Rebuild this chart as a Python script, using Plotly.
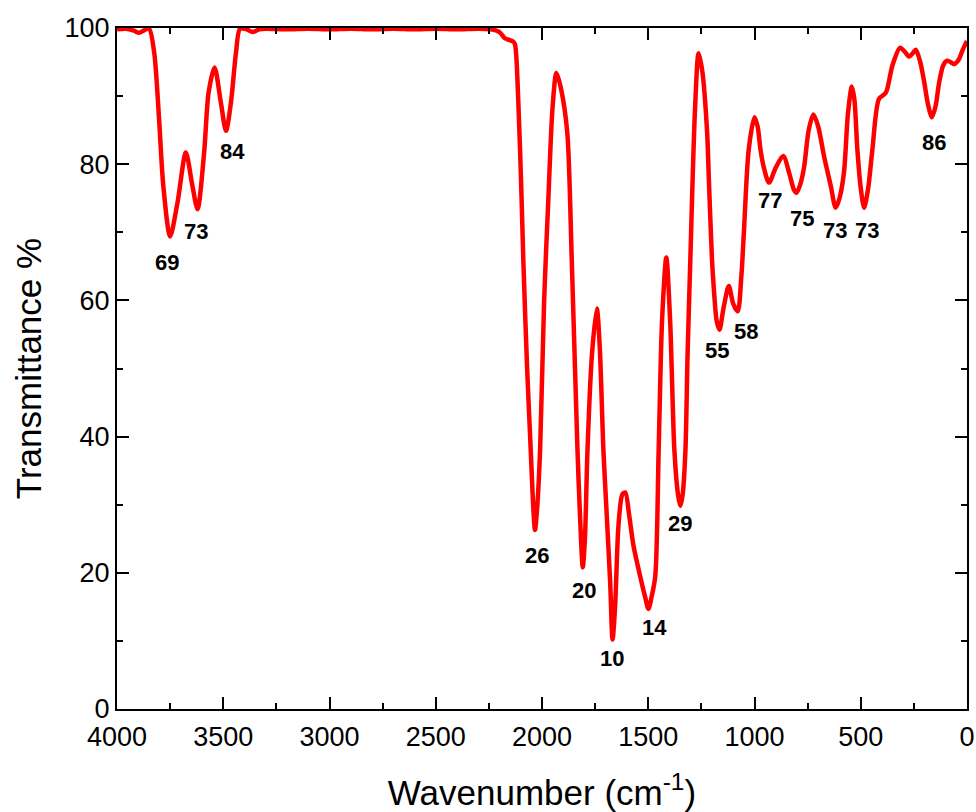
import plotly.graph_objects as go

# Spectrum (wavenumber cm^-1, transmittance %)
wavenumber = [4000, 3960, 3920, 3896, 3870, 3849, 3825, 3802, 3782, 3750, 3715, 3676, 3645, 3621,
              3590, 3569, 3541, 3511, 3487, 3464, 3440, 3421, 3390, 3362, 3330, 3300,
              3200, 3100, 3000, 2900, 2800, 2700, 2600, 2500, 2400, 2300, 2240, 2200,
              2175, 2150, 2135, 2127, 2112, 2096, 2088, 2070, 2053, 2040, 2033, 2024, 2009,
              1990, 1970, 1950, 1932, 1910, 1881, 1860, 1833, 1818, 1808, 1798, 1786, 1765,
              1742, 1728, 1711, 1695, 1679, 1668, 1656, 1640, 1622, 1608, 1590, 1569, 1538,
              1515, 1499, 1484, 1467, 1451, 1435, 1415, 1397, 1377, 1360, 1349, 1338, 1325,
              1315, 1302, 1280, 1263, 1245, 1223, 1215, 1200, 1192, 1178, 1165, 1145, 1121,
              1100, 1079, 1062, 1050, 1027, 1000, 985, 972, 956, 932, 900, 865, 835, 815,
              802, 785, 767, 745, 723, 700, 673, 641, 618, 600, 579, 560, 542, 530, 516,
              500, 484, 465, 445, 414, 382, 351, 315, 295, 272, 255, 241, 220, 201, 185, 165,
              148, 131, 112, 94, 78, 60, 40, 20, 0]
transmittance = [99.8, 99.9, 99.6, 99.3, 99.7, 99.9, 96.4, 86.6, 76.8, 69.4, 74.4, 81.7, 76.8, 73.4,
                 81.7, 90.5, 94.2, 89.0, 84.9, 89.0, 96.4, 99.9, 99.8, 99.4, 99.8, 99.9,
                 99.8, 99.9, 99.8, 99.9, 99.8, 99.9, 99.8, 99.9, 99.8, 99.9, 99.8, 99.4,
                 98.5, 98.2, 98.0, 97.6, 89.6, 74.9, 66.0, 50.0, 38.0, 29.0, 26.3, 29.0, 38.0,
                 60.0, 75.0, 88.5, 93.4, 91.0, 84.6, 66.0, 38.0, 26.0, 20.8, 25.0, 38.0, 52.0,
                 58.8, 53.0, 38.0, 28.3, 18.5, 10.2, 15.0, 27.0, 31.5, 31.8, 28.5, 23.9, 19.5,
                 16.5, 14.7, 16.5, 19.5, 38.0, 57.0, 66.3, 57.0, 38.0, 31.5, 29.8, 31.5, 38.0,
                 52.0, 66.0, 88.0, 96.3, 93.5, 84.7, 78.0, 66.0, 62.0, 57.0, 55.7, 59.0, 62.1,
                 59.5, 58.4, 63.5, 70.0, 82.2, 86.9, 85.5, 82.2, 79.5, 77.3, 79.5, 81.2, 78.5, 76.3,
                 75.8, 77.0, 79.5, 85.0, 87.3, 85.5, 81.2, 76.8, 73.6, 75.0, 78.8, 87.5, 91.4, 89.5, 82.2,
                 76.5, 73.6, 76.5, 82.2, 89.6, 90.5, 94.5, 97.1, 96.6, 95.8, 96.3, 96.8, 95.0, 92.0, 89.0, 86.9,
                 88.5, 92.0, 94.5, 95.2, 95.0, 94.7, 95.3, 96.8, 98.1]

# Peak labels
label_text = ["69", "73", "84", "26", "20", "10", "14", "29", "55", "58", "77", "75", "73", "73", "86"]
label_x = [3764, 3627, 3458, 2024, 1802, 1670, 1472, 1349, 1175, 1038, 929, 778, 623, 472, 156]
label_y = [65.6, 70.1, 81.8, 22.6, 17.4, 7.4, 11.9, 27.2, 52.6, 55.4, 74.6, 72.1, 70.3, 70.3, 83.2]

x_ticks = [4000, 3500, 3000, 2500, 2000, 1500, 1000, 500, 0]
y_ticks = [0, 20, 40, 60, 80, 100]

FONT = "Arial, 'Liberation Sans', sans-serif"

fig = go.Figure()
fig.add_trace(go.Scatter(
    x=wavenumber, y=transmittance, mode="lines",
    line=dict(color="#FF0000", width=4.5, shape="spline", smoothing=0.8),
    showlegend=False, hoverinfo="skip"))

for t, xv, yv in zip(label_text, label_x, label_y):
    fig.add_annotation(x=xv, y=yv, text="<b>" + t + "</b>", showarrow=False,
                       xanchor="center", yanchor="middle",
                       font=dict(family=FONT, size=22, color="black"))

axis_common = dict(
    showline=True, linecolor="black", linewidth=2, mirror="ticks",
    ticks="inside", ticklen=12, tickwidth=2, tickcolor="black",
    showgrid=False, zeroline=False, automargin=False,
    tickfont=dict(family=FONT, size=27, color="black"),
)

fig.update_xaxes(range=[4000, 0], tickvals=x_ticks, ticktext=[str(v) for v in x_ticks],
                 ticklabelstandoff=3,
                 minor=dict(ticks="inside", ticklen=6, tickwidth=2, tickcolor="black", dtick=250,
                            showgrid=False),
                 title=dict(text="Wavenumber (cm<sup>-1</sup>)", font=dict(family=FONT, size=35, color="black"),
                            standoff=32),
                 **axis_common)
fig.update_yaxes(range=[0, 100], tickvals=y_ticks,
                 minor=dict(ticks="inside", ticklen=6, tickwidth=2, tickcolor="black", dtick=10,
                            showgrid=False),
                 title=dict(text="Transmittance %", font=dict(family=FONT, size=35, color="black"),
                            standoff=12),
                 **axis_common)

fig.update_layout(
    width=976, height=812,
    margin=dict(l=117, r=9, t=28, b=103, pad=0),
    paper_bgcolor="white", plot_bgcolor="white",
)

fig.write_html("out.html")
